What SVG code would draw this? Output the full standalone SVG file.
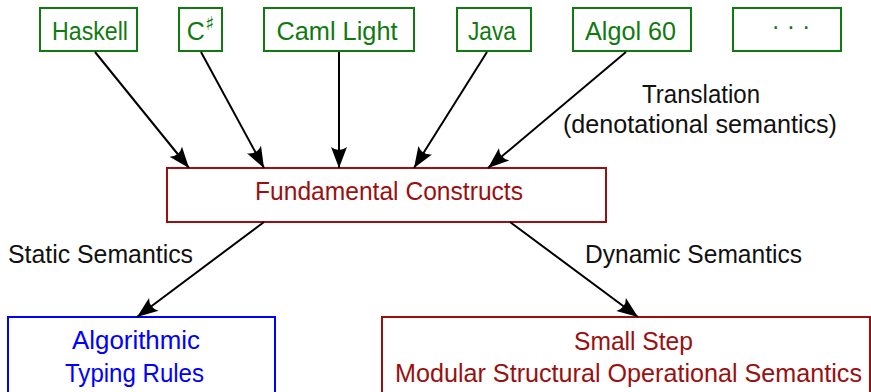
<svg xmlns="http://www.w3.org/2000/svg" width="871" height="392" viewBox="0 0 871 392">
<style>
text{font-family:"Liberation Sans","DejaVu Sans",sans-serif;font-size:25px;text-anchor:middle}
.g rect{fill:#fff;stroke:#107a10;stroke-width:2}
.g text{fill:#107a10}
.r rect{fill:#fff;stroke:#9a1010;stroke-width:2}
.r text{fill:#9a1010}
.b rect{fill:#fff;stroke:#0000ff;stroke-width:2}
.b text{fill:#0000ff}
.lbl{fill:#111}
#edges line{stroke:#000;stroke-width:2;marker-end:url(#ah)}
</style>
<defs>
<marker id="ah" markerUnits="userSpaceOnUse" markerWidth="24" markerHeight="18" viewBox="-22 -9 23 18" refX="0" refY="0" orient="auto">
<path d="M0,0 L-21,-8 Q-15,0 -21,8 Z" fill="#000"/>
</marker>
</defs>
<rect width="871" height="392" fill="#fff"/>
<g id="haskell" class="g"><rect x="40" y="8" width="97" height="43"/><text x="90" y="40" textLength="76" lengthAdjust="spacingAndGlyphs">Haskell</text></g>
<g id="csharp" class="g"><rect x="179" y="8" width="43" height="43"/><text x="200.5" y="40">C<tspan font-family="DejaVu Sans" font-size="19" dy="-10">♯</tspan></text></g>
<g id="caml" class="g"><rect x="264" y="8" width="150" height="43"/><text x="337" y="40" textLength="121" lengthAdjust="spacingAndGlyphs">Caml Light</text></g>
<g id="java" class="g"><rect x="457" y="8" width="74" height="43"/><text x="492" y="40" textLength="48" lengthAdjust="spacingAndGlyphs">Java</text></g>
<g id="algol" class="g"><rect x="573" y="8" width="118" height="43"/><text x="630.5" y="40" textLength="91" lengthAdjust="spacingAndGlyphs">Algol 60</text></g>
<g id="more" class="g"><rect x="733" y="8" width="108" height="43"/><text x="791" y="35" font-family="DejaVu Sans" font-size="18">· · ·</text></g>
<g id="fundamental" class="r"><rect x="167" y="168" width="439" height="54"/><text x="389" y="200" textLength="268" lengthAdjust="spacingAndGlyphs">Fundamental Constructs</text></g>
<g id="algorithmic" class="b"><rect x="8" y="317" width="267" height="90"/><text x="136" y="349" textLength="128" lengthAdjust="spacingAndGlyphs">Algorithmic</text><text x="134.5" y="382" textLength="139" lengthAdjust="spacingAndGlyphs">Typing Rules</text></g>
<g id="smallstep" class="r"><rect x="382" y="317" width="488" height="90"/><text x="633.5" y="350" textLength="119" lengthAdjust="spacingAndGlyphs">Small Step</text><text x="628.5" y="382" textLength="467" lengthAdjust="spacingAndGlyphs">Modular Structural Operational Semantics</text></g>
<g id="edges">
<line x1="95" y1="52" x2="189" y2="168"/>
<line x1="201" y1="52" x2="264" y2="168"/>
<line x1="339" y1="52" x2="339" y2="168"/>
<line x1="487" y1="52" x2="414" y2="168"/>
<line x1="626" y1="52" x2="488" y2="168"/>
<line x1="264" y1="222" x2="137" y2="317"/>
<line x1="510" y1="222" x2="638" y2="317"/>
</g>
<g id="labels">
<text class="lbl" x="701" y="103" textLength="118" lengthAdjust="spacingAndGlyphs">Translation</text>
<text class="lbl" x="700" y="133" textLength="274" lengthAdjust="spacingAndGlyphs">(denotational semantics)</text>
<text class="lbl" x="100.5" y="263" textLength="185" lengthAdjust="spacingAndGlyphs">Static Semantics</text>
<text class="lbl" x="693.5" y="263" textLength="217" lengthAdjust="spacingAndGlyphs">Dynamic Semantics</text>
</g>
</svg>
